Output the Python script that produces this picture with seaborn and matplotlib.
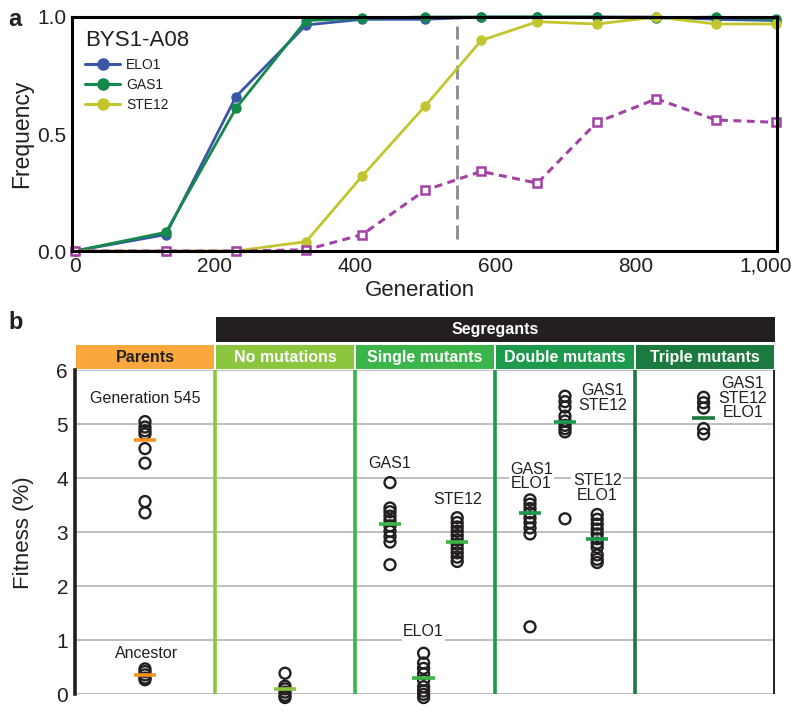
import matplotlib
matplotlib.use("Agg")
import pandas as pd
import matplotlib.pyplot as plt
import matplotlib.transforms as mtransforms
import seaborn as sns
from matplotlib.lines import Line2D
from matplotlib.patches import Rectangle

sns.set_style("white")
plt.rcParams["font.family"] = ["Liberation Sans", "DejaVu Sans"]

# ---- panel a: allele frequencies over time ----
generation = [0, 130, 230, 330, 410, 500, 580, 660, 745, 830, 915, 1000]
freq_elo1 = [0.0, 0.07, 0.66, 0.966, 0.99, 0.99, 1.0, 1.0, 1.0, 1.0, 0.99, 0.985]
freq_gas1 = [0.0, 0.08, 0.61, 0.985, 0.995, 1.0, 1.0, 1.0, 1.0, 0.995, 1.0, 0.99]
freq_ste12 = [0.0, 0.0, 0.0, 0.04, 0.32, 0.62, 0.90, 0.98, 0.97, 1.0, 0.97, 0.97]
freq_all3 = [0.0, 0.0, 0.0, 0.005, 0.07, 0.26, 0.34, 0.29, 0.55, 0.65, 0.56, 0.55]
genes = ["ELO1", "GAS1", "STE12"]
gen_sampled = 545
x_ticks = [0, 200, 400, 600, 800, 1000]
x_ticklabels = ["0", "200", "400", "600", "800", "1,000"]

# ---- panel b: fitness of parents and segregants ----
columns = ["Parents", "No mutations", "Single mutants", "Double mutants", "Triple mutants"]
fit_gen545 = [5.05, 4.95, 4.88, 4.82, 4.55, 4.28, 3.57, 3.36]
fit_ancestor = [0.47, 0.42, 0.36, 0.30, 0.27]
fit_nomut = [0.39, 0.15, 0.10, 0.04, -0.02, -0.06]
fit_gas1 = [3.92, 3.45, 3.38, 3.30, 3.22, 3.12, 3.02, 2.92, 2.82, 2.40]
fit_elo1 = [0.76, 0.58, 0.48, 0.38, 0.26, 0.14, 0.06, 0.0, -0.06]
fit_ste12 = [3.27, 3.18, 3.10, 3.02, 2.94, 2.86, 2.78, 2.70, 2.62, 2.54, 2.46]
fit_gas1_elo1 = [3.60, 3.52, 3.44, 3.36, 3.27, 3.18, 3.08, 2.97, 1.25]
fit_gas1_ste12 = [5.52, 5.42, 5.32, 5.15, 5.06, 4.98, 4.92, 4.86, 3.25]
fit_ste12_elo1 = [3.33, 3.24, 3.15, 3.06, 2.97, 2.88, 2.80, 2.72, 2.58, 2.50, 2.44]
fit_triple = [5.50, 5.40, 5.30, 4.92, 4.82]

group_names = ["Generation 545", "Ancestor", "none", "GAS1", "ELO1", "STE12",
               "GAS1\nELO1", "GAS1\nSTE12", "STE12\nELO1", "GAS1\nSTE12\nELO1"]
group_column = ["Parents", "Parents", "No mutations", "Single mutants", "Single mutants",
                "Single mutants", "Double mutants", "Double mutants", "Double mutants",
                "Triple mutants"]
group_values = [fit_gen545, fit_ancestor, fit_nomut, fit_gas1, fit_elo1, fit_ste12,
                fit_gas1_elo1, fit_gas1_ste12, fit_ste12_elo1, fit_triple]
group_means = [4.70, 0.36, 0.10, 3.15, 0.30, 2.82, 3.35, 5.04, 2.87, 5.12]

# layout / styling
gene_colors = {"ELO1": "#3a57a7", "GAS1": "#13894a", "STE12": "#c3c52f"}
magenta = "#a440a6"
col_colors = ["#f8a83c", "#8cc63f", "#3bb44a", "#1e9a4c", "#1b7a3f"]
mean_colors = ["#f7941e", "#8cc63f", "#3bb44a", "#1e9a4c", "#1b7a3f"]
slot = {"Generation 545": 0.5, "Ancestor": 0.5, "none": 0.5, "GAS1": 0.25, "ELO1": 0.49,
        "STE12": 0.73, "GAS1\nELO1": 0.25, "GAS1\nSTE12": 0.5, "STE12\nELO1": 0.73,
        "GAS1\nSTE12\nELO1": 0.49}
label_pos = {"Generation 545": (0.0, 5.47), "Ancestor": (0.01, 0.75), "GAS1": (0.0, 4.28),
             "ELO1": (0.0, 1.16), "STE12": (0.0, 3.61), "GAS1\nELO1": (0.01, 4.03),
             "GAS1\nSTE12": (0.27, 5.49), "STE12\nELO1": (0.0, 3.82),
             "GAS1\nSTE12\nELO1": (0.28, 5.48)}
ink = "#231f20"

fig = plt.figure(figsize=(8, 7.13), dpi=100)

# ================= panel a =================
ax_a = fig.add_axes([72 / 800, 1 - 251 / 713, 705 / 800, 234 / 713])

df_a = pd.DataFrame({
    "generation": generation * 3,
    "frequency": freq_elo1 + freq_gas1 + freq_ste12,
    "gene": [g for g in genes for _ in generation],
})
sns.lineplot(data=df_a, x="generation", y="frequency", hue="gene", hue_order=genes,
             palette=gene_colors, marker="o", markersize=7.5, markeredgewidth=0,
             linewidth=2, legend=False, ax=ax_a, clip_on=False, zorder=3)
sns.lineplot(x=generation, y=freq_all3, color=magenta, marker="s", markersize=5.5,
             markerfacecolor="white", markeredgecolor=magenta, markeredgewidth=1.8,
             linewidth=2.2, legend=False, ax=ax_a, clip_on=False, zorder=4)
ax_a.lines[-1].set_dashes([2.6, 1.8])

ax_a.axvline(gen_sampled, ymin=0.05, ymax=0.96, color="#8a8a8a", lw=2,
             dashes=(5, 2.2), zorder=1)

ax_a.set_xlim(-4, 1002)
ax_a.set_ylim(0, 1)
ax_a.set_xticks(x_ticks)
ax_a.set_xticklabels(x_ticklabels)
ax_a.set_yticks([0, 0.5, 1.0])
ax_a.set_yticklabels(["0.0", "0.5", "1.0"])
ax_a.tick_params(length=0, labelsize=15, pad=4, colors=ink)
# nudge the last label so it stays inside the figure
last = ax_a.get_xticklabels()[-1]
last.set_transform(last.get_transform() +
                   mtransforms.ScaledTranslation(-10 / 100, 0, fig.dpi_scale_trans))
ax_a.set_xlabel("Generation", fontsize=16, color=ink)
ax_a.set_ylabel("Frequency", fontsize=16.5, color=ink, va="center")
ax_a.xaxis.set_label_coords(0.494, -0.122)
ax_a.yaxis.set_label_coords(-0.071, 0.5)
for sp in ax_a.spines.values():
    sp.set_linewidth(2.2)
    sp.set_color("black")
    sp.set_zorder(5)

handles = [Line2D([], [], color=gene_colors[g], marker="o", markersize=8, lw=2.2)
           for g in genes]
leg = ax_a.legend(handles, genes, title="BYS1-A08", loc="upper left",
                  bbox_to_anchor=(0.008, 0.975), frameon=False, fontsize=10,
                  title_fontsize=16, alignment="left", handlelength=2.5,
                  labelspacing=0.45, handletextpad=0.45, borderaxespad=0.25,
                  borderpad=0.3)
plt.setp(leg.get_texts(), color=ink)
leg.get_title().set_color(ink)

fig.text(8 / 800, 1 - 19 / 713, "a", fontsize=17, fontweight="bold", va="center",
         color=ink)

# ================= panel b =================
ax_b = fig.add_axes([75 / 800, 1 - 694.3 / 713, 700 / 800, 324 / 713])

rows = []
for name, col, vals in zip(group_names, group_column, group_values):
    xpos = columns.index(col) + slot[name]
    for v in vals:
        rows.append({"group": name, "column": col, "x": xpos, "fitness": v})
df_b = pd.DataFrame(rows)

sns.scatterplot(data=df_b, x="x", y="fitness", marker="o", s=62, ax=ax_b,
                legend=False, clip_on=False, zorder=4)
coll = ax_b.collections[-1]
coll.set_facecolor("none")
coll.set_edgecolor(ink)
coll.set_linewidth(1.7)

for name, col, m in zip(group_names, group_column, group_means):
    ci = columns.index(col)
    xpos = ci + slot[name]
    ax_b.hlines(m, xpos - 0.08, xpos + 0.08, color=mean_colors[ci], lw=2.6, zorder=5)
    if name in label_pos:
        dx, ty = label_pos[name]
        ax_b.text(xpos + dx, ty, name, ha="center", va="center", fontsize=11.5,
                  color=ink, linespacing=0.95, zorder=3,
                  bbox=dict(facecolor="white", edgecolor="none", pad=1.0))

ax_b.set_xlim(0, 5)
ax_b.set_ylim(0, 6)
ax_b.set_yticks(range(7))
ax_b.set_xticks([])
ax_b.set_xlabel("")
ax_b.set_ylabel("Fitness (%)", fontsize=16, color=ink, va="center")
ax_b.yaxis.set_label_coords(-0.073, 0.5)
ax_b.tick_params(axis="y", length=0, labelsize=15, pad=5, colors=ink)
ax_b.yaxis.grid(True, color="#b4b4b4", lw=1.2, zorder=0)
ax_b.set_axisbelow(True)
for side in ["top", "bottom", "right"]:
    ax_b.spines[side].set_visible(False)
ax_b.spines["left"].set_linewidth(2.6)
ax_b.spines["left"].set_color(ink)

for ci in range(1, 5):
    ax_b.axvline(ci, color=col_colors[ci], lw=2.6, zorder=2)
ax_b.axvline(5, color=ink, lw=2.8, zorder=2)

# header boxes
for ci, (col, cc) in enumerate(zip(columns, col_colors)):
    ax_b.add_patch(Rectangle((ci + 0.007, 6.02), 0.986, 0.45, facecolor=cc,
                             edgecolor="none", clip_on=False))
    ax_b.text(ci + 0.5, 6.245, col, ha="center", va="center", fontsize=11.5,
              fontweight="bold", color=ink if ci == 0 else "white")
ax_b.add_patch(Rectangle((1.007, 6.53), 3.993, 0.46, facecolor=ink, edgecolor="none",
                         clip_on=False))
ax_b.text(3.0, 6.76, "Segregants", ha="center", va="center", fontsize=11.5,
          fontweight="bold", color="white")

fig.text(8 / 800, 1 - 322 / 713, "b", fontsize=17, fontweight="bold", va="center",
         color=ink)

fig.savefig("out.png", dpi=100)
